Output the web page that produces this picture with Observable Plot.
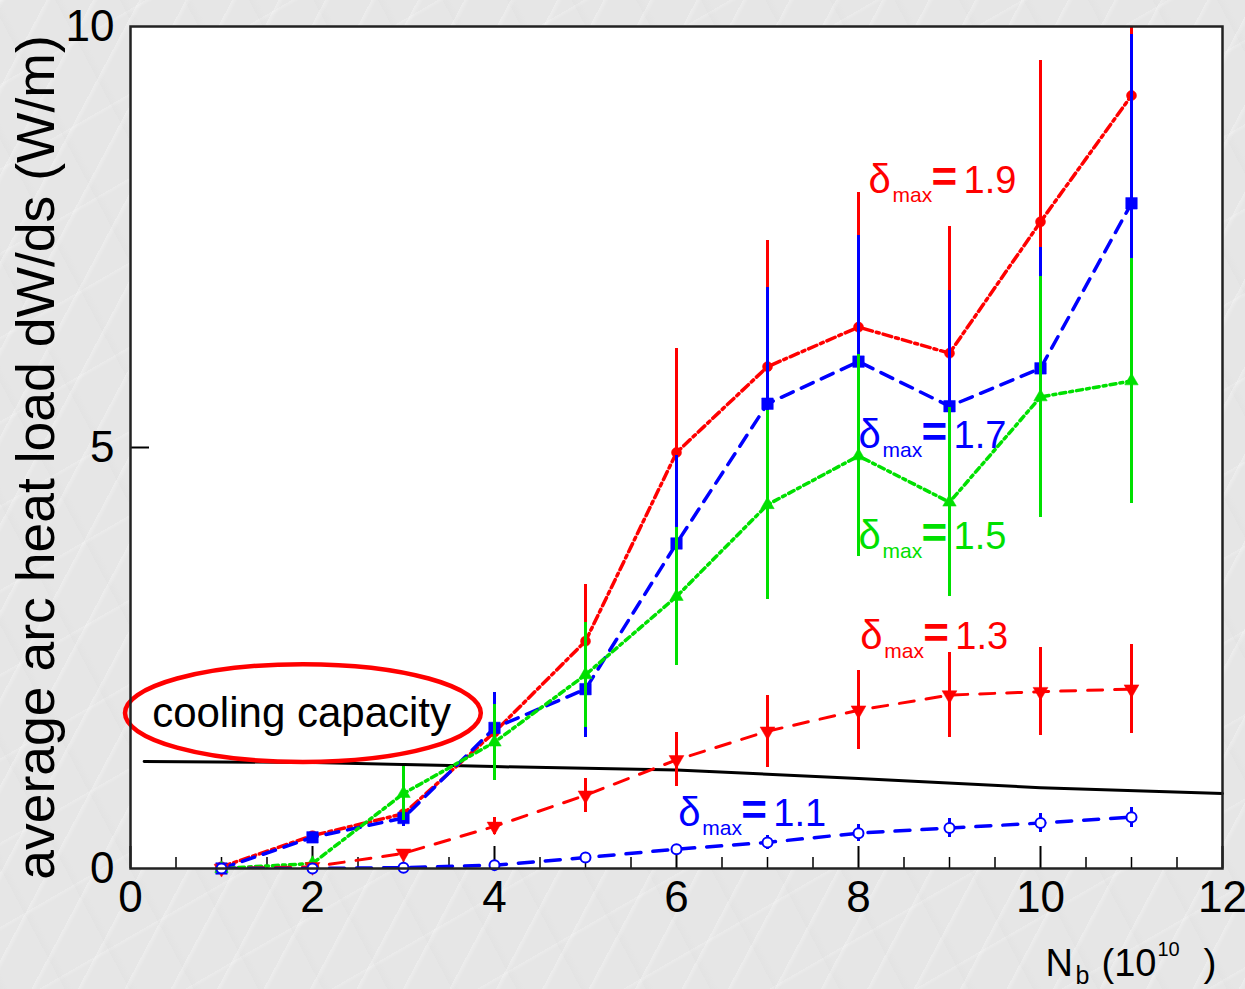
<!DOCTYPE html>
<html>
<head>
<meta charset="utf-8">
<script src="https://cdn.jsdelivr.net/npm/d3@7"></script>
<script src="https://cdn.jsdelivr.net/npm/@observablehq/plot@0.6"></script>
<style>
  html, body { margin: 0; padding: 0; }
  body {
    width: 1245px; height: 989px; overflow: hidden;
    background-color: #e6e6e6;
    background-image:
      repeating-linear-gradient(118deg, rgba(255,255,255,0.28) 0px, rgba(255,255,255,0.0) 5px, rgba(255,255,255,0) 41px),
      repeating-linear-gradient(62deg, rgba(215,215,215,0.18) 0px, rgba(255,255,255,0) 8px, rgba(255,255,255,0) 57px),
      repeating-linear-gradient(150deg, rgba(255,255,255,0.22) 0px, rgba(255,255,255,0) 4px, rgba(255,255,255,0) 73px);
  }
  #chart svg { display: block; }
</style>
</head>
<body>
<div id="chart"></div>
<script>
// ---------------- data ----------------
const nb = [1, 2, 3, 4, 5, 6, 7, 8, 9, 10, 11];           // N_b (10^10)

const heat19 = [0.02, 0.39, 0.65, 1.62, 2.70, 4.94, 5.96, 6.43, 6.12, 7.68, 9.18];
const err19  = [0.02, 0.05, 0.10, 0.30, 0.67, 1.23, 1.50, 1.60, 1.50, 1.92, 2.00];

const heat17 = [0.00, 0.37, 0.60, 1.67, 2.13, 3.86, 5.52, 6.02, 5.49, 5.94, 7.90];
const err17  = [0.01, 0.05, 0.10, 0.42, 0.58, 1.05, 1.38, 1.50, 1.37, 1.44, 2.00];

const heat15 = [0.00, 0.06, 0.89, 1.50, 2.30, 3.23, 4.32, 4.90, 4.35, 5.60, 5.79];
const err15  = [0.01, 0.05, 0.32, 0.45, 0.62, 0.82, 1.12, 1.20, 1.12, 1.43, 1.45];

const heat13 = [0.00, 0.02, 0.18, 0.50, 0.87, 1.29, 1.63, 1.88, 2.06, 2.10, 2.13];
const err13  = [0.00, 0.02, 0.05, 0.10, 0.20, 0.32, 0.43, 0.47, 0.50, 0.52, 0.53];

const heat11 = [0.00, 0.00, 0.01, 0.04, 0.13, 0.23, 0.31, 0.42, 0.48, 0.54, 0.61];
const err11  = [0.00, 0.00, 0.01, 0.02, 0.05, 0.06, 0.08, 0.10, 0.11, 0.11, 0.12];

// cooling capacity line
const coolX = [0.15, 2, 4, 6, 8, 10, 12];
const coolY = [1.27, 1.26, 1.21, 1.17, 1.07, 0.96, 0.89];

const deltaValues = ["1.9", "1.7", "1.5", "1.3", "1.1"];
const xTicks = [0, 2, 4, 6, 8, 10, 12];
const xMinorTicks = [0.5, 1, 1.5, 2.5, 3, 3.5, 4.5, 5, 5.5, 6.5, 7, 7.5, 8.5, 9, 9.5, 10.5, 11, 11.5];
const yTicks = [0, 5, 10];
const yLabel = "average arc heat load dW/ds (W/m)";
const coolingText = "cooling capacity";

// ---------------- styles / annotations ----------------
const downTriangle = {
  draw(ctx, size) {
    const s = Math.sqrt(size * 4 / Math.sqrt(3));
    const h = s * Math.sqrt(3) / 2;
    ctx.moveTo(-s / 2, -h / 3);
    ctx.lineTo(s / 2, -h / 3);
    ctx.lineTo(0, 2 * h / 3);
    ctx.closePath();
  }
};
const RED = "#ff0000", BLUE = "#0000ff", GREEN = "#00e000";
const seriesStyle = {
  "1.9": {color: RED,   dash: "9,4,3,4",  width: 3.5, symbol: "circle",     r: 5,   fill: RED},
  "1.7": {color: BLUE,  dash: "13,9",     width: 3.5, symbol: "square",     r: 6.5, fill: BLUE},
  "1.5": {color: GREEN, dash: "6,4,3,4",  width: 3.5, symbol: "triangle",   r: 5,   fill: GREEN},
  "1.3": {color: RED,   dash: "15,12",    width: 3,   symbol: downTriangle, r: 5.5, fill: RED},
  "1.1": {color: BLUE,  dash: "15,12",    width: 3.5, symbol: "circle",     r: 5,   fill: "white"}
};
const heats = {"1.9": heat19, "1.7": heat17, "1.5": heat15, "1.3": heat13, "1.1": heat11};
const errs  = {"1.9": err19,  "1.7": err17,  "1.5": err15,  "1.3": err13,  "1.1": err11};

// label anchor positions (data coords) for the δmax annotations
const labelPos = {
  "1.9": [8.11, 8.02], "1.7": [8.0, 4.99], "1.5": [8.0, 3.79], "1.3": [8.02, 2.61], "1.1": [6.02, 0.51]
};
const ellipse = {x: 1.90, y: 1.84, rx: 1.955, ry: 0.58};
const coolingTextPos = [1.88, 1.675];

// ---------------- tables ----------------
const coolRows = coolX.map((x, i) => ({x, y: coolY[i]}));
const labels = deltaValues.map(d => ({d, x: labelPos[d][0], y: labelPos[d][1], color: seriesStyle[d].color}));

const FONT = "'Liberation Sans', Arial, Helvetica, sans-serif";

const seriesMarks = deltaValues.flatMap(d => {
  const st = seriesStyle[d];
  const rows = nb.map((x, i) => ({x, y: heats[d][i], lo: heats[d][i] - errs[d][i], hi: heats[d][i] + errs[d][i]}));
  return [
    Plot.ruleX(rows.filter(r => r.hi - r.lo > 0.05), {x: "x", y1: "lo", y2: "hi", stroke: st.color, strokeWidth: 2.5,
      shapeRendering: "crispEdges", clip: true}),
    Plot.line(rows, {x: "x", y: "y", stroke: st.color, strokeWidth: st.width, strokeDasharray: st.dash, clip: true}),
    Plot.dot(rows, {x: "x", y: "y", symbol: st.symbol, r: st.r, fill: st.fill, stroke: st.color,
                    strokeWidth: st.fill === "white" ? 2 : 0.5})
  ];
});

const ellipseMark = (index, scales) => {
  const x = scales.x, y = scales.y;
  return d3.create("svg:ellipse")
    .attr("cx", x(ellipse.x)).attr("cy", y(ellipse.y))
    .attr("rx", Math.abs(x(ellipse.x + ellipse.rx) - x(ellipse.x)))
    .attr("ry", Math.abs(y(ellipse.y + ellipse.ry) - y(ellipse.y)))
    .attr("fill", "none").attr("stroke", RED).attr("stroke-width", 4.5)
    .node();
};

const chart = Plot.plot({
  width: 1245,
  height: 989,
  marginLeft: 130,
  marginRight: 23,
  marginTop: 26,
  marginBottom: 121,
  style: {fontFamily: FONT, background: "transparent", color: "black", overflow: "visible"},
  x: {domain: [0, 12]},
  y: {domain: [0, 10]},
  marks: [
    Plot.frame({fill: "white"}),
    // ticks drawn inside the frame
    Plot.ruleX(xTicks, {stroke: "black", strokeWidth: 2, insetTop: 842 - 22}),
    Plot.ruleX(xMinorTicks, {stroke: "black", strokeWidth: 1.5, insetTop: 842 - 11}),
    Plot.ruleY([5], {stroke: "black", strokeWidth: 2, insetRight: 1092 - 19}),
    Plot.axisX({ticks: xTicks, tickSize: 0, tickPadding: 12, fontSize: 44, label: null, tickFormat: d => String(d)}),
    Plot.axisY({ticks: yTicks, tickSize: 0, tickPadding: 16, fontSize: 44, label: null, tickFormat: d => String(d)}),
    // cooling capacity line
    Plot.line(coolRows, {x: "x", y: "y", stroke: "black", strokeWidth: 3}),
    ellipseMark,
    Plot.text([coolingText], {x: () => coolingTextPos[0], y: () => coolingTextPos[1], fontSize: 42,
      textAnchor: "middle", lineAnchor: "bottom", fill: "black"}),
    ...seriesMarks,
    // δmax labels
    Plot.text(labels, {x: "x", y: "y", text: () => "δ", fill: "color", fontSize: 40, textAnchor: "start", lineAnchor: "bottom"}),
    Plot.text(labels, {x: "x", y: "y", text: () => "max", fill: "color", fontSize: 21, dx: 24, dy: 9, textAnchor: "start", lineAnchor: "bottom"}),
    Plot.text(labels, {x: "x", y: "y", text: () => "=", fill: "color", fontSize: 44, fontWeight: "bold", dx: 63, dy: -1, textAnchor: "start", lineAnchor: "bottom"}),
    Plot.text(labels, {x: "x", y: "y", text: "d", fill: "color", fontSize: 38, dx: 95, textAnchor: "start", lineAnchor: "bottom"}),
    // axis titles
    Plot.text([yLabel], {frameAnchor: "left", rotate: -90, dx: -77, dy: 10, fontSize: 53.5,
      textAnchor: "middle", lineAnchor: "bottom", fill: "black"}),
    Plot.text(["N"], {frameAnchor: "bottom-right", dx: -177, dy: 107, fontSize: 38, textAnchor: "start", lineAnchor: "bottom", fill: "black"}),
    Plot.text(["b"], {frameAnchor: "bottom-right", dx: -147, dy: 115, fontSize: 25, textAnchor: "start", lineAnchor: "bottom", fill: "black"}),
    Plot.text(["(10"], {frameAnchor: "bottom-right", dx: -121, dy: 107, fontSize: 38, textAnchor: "start", lineAnchor: "bottom", fill: "black"}),
    Plot.text(["10"], {frameAnchor: "bottom-right", dx: -65, dy: 87, fontSize: 20, textAnchor: "start", lineAnchor: "bottom", fill: "black"}),
    Plot.text([")"], {frameAnchor: "bottom-right", dx: -19, dy: 107, fontSize: 39, textAnchor: "start", lineAnchor: "bottom", fill: "black"}),
    Plot.frame({stroke: "#222", strokeWidth: 2.5})
  ]
});
document.getElementById("chart").appendChild(chart);
</script>
</body>
</html>
